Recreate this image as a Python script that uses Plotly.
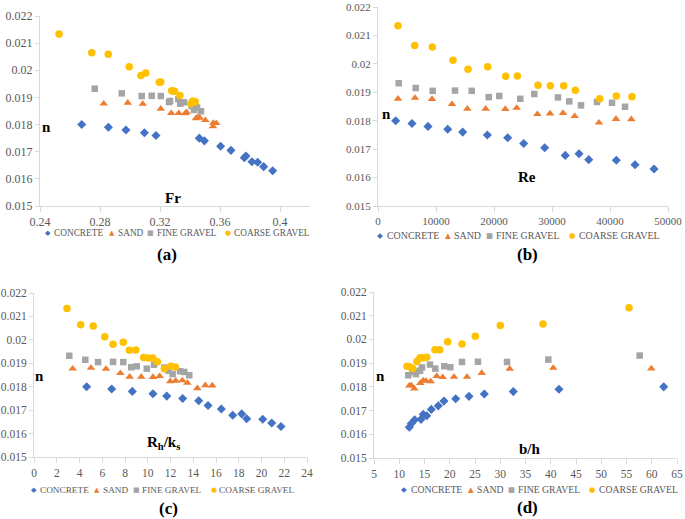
import plotly.graph_objects as go
from plotly.subplots import make_subplots

materials = ["CONCRETE", "SAND", "FINE GRAVEL", "COARSE GRAVEL"]
colors = ["#4472C4", "#ED7D31", "#A5A5A5", "#FFC000"]
symbols = ["diamond", "triangle-up", "square", "circle"]
sizes = [7, 7.5, 6.5, 7.5]

# manning n for each material
concrete_n = [0.0180, 0.0179, 0.0178, 0.0177, 0.0176, 0.0175, 0.0174, 0.0172, 0.01705, 0.01678, 0.01684, 0.01663, 0.01661, 0.01645, 0.0163]
sand_n = [0.01877, 0.0188, 0.01876, 0.01858, 0.01842, 0.01842, 0.01841, 0.01845, 0.01823, 0.01825, 0.01827, 0.01816, 0.01793, 0.01806, 0.01805]
fine_n = [0.01932, 0.01915, 0.01905, 0.01906, 0.01905, 0.01883, 0.01887, 0.01877, 0.01894, 0.01882, 0.01868, 0.01854, 0.01866, 0.01863, 0.01849]
coarse_n = [0.02134, 0.02065, 0.02059, 0.02013, 0.01981, 0.0199, 0.01956, 0.01957, 0.01925, 0.01923, 0.01923, 0.01907, 0.01877, 0.01887, 0.01884]

# (a) Froude number
concrete_fr = [0.2678, 0.2856, 0.2973, 0.3096, 0.3173, 0.3462, 0.3496, 0.3604, 0.3673, 0.3762, 0.3773, 0.3813, 0.3851, 0.3891, 0.3951]
sand_fr = [0.2825, 0.2985, 0.3085, 0.3205, 0.3275, 0.3325, 0.3367, 0.3378, 0.344, 0.3465, 0.3452, 0.3502, 0.3553, 0.3555, 0.3575]
fine_fr = [0.2765, 0.2945, 0.3078, 0.3145, 0.3205, 0.326, 0.3267, 0.3335, 0.3322, 0.336, 0.3411, 0.3427, 0.3435, 0.3447, 0.3473]
coarse_fr = [0.2527, 0.2745, 0.2855, 0.2995, 0.3073, 0.3105, 0.3195, 0.3205, 0.3278, 0.3289, 0.3297, 0.3333, 0.3405, 0.3418, 0.3435]

# (b) Reynolds number
concrete_re = [3050, 5860, 8620, 12020, 14600, 18850, 22360, 25120, 28740, 32290, 34660, 36330, 41090, 44310, 47590]
sand_re = [3450, 6380, 9310, 12760, 15400, 18570, 21950, 23910, 27470, 29660, 31900, 33910, 38100, 41030, 43670]
fine_re = [3570, 6500, 9430, 13280, 16160, 19090, 20910, 24530, 26950, 31030, 32980, 35000, 37760, 40350, 42590]
coarse_re = [3450, 6330, 9360, 12930, 15520, 18910, 22020, 24020, 27590, 29710, 32020, 34020, 38220, 41090, 43790]

# (c) Rh/ks
concrete_rk = [4.63, 6.83, 8.64, 10.46, 11.67, 13.07, 14.48, 15.30, 16.47, 17.47, 18.26, 18.70, 20.11, 20.90, 21.71]
sand_rk = [3.40, 5.01, 6.33, 7.59, 8.41, 9.43, 10.46, 11.05, 11.98, 12.46, 13.04, 13.48, 14.36, 15.06, 15.67]
fine_rk = [3.10, 4.51, 5.63, 6.95, 7.85, 8.55, 9.03, 9.91, 10.55, 11.46, 11.84, 12.19, 12.84, 13.21, 13.65]
coarse_rk = [2.90, 4.11, 5.21, 6.22, 6.95, 7.85, 8.38, 8.94, 9.64, 10.05, 10.44, 10.84, 11.46, 12.04, 12.42]

# (d) b/h
concrete_bh = [62.37, 41.63, 32.58, 26.84, 23.81, 21.18, 18.86, 17.73, 16.35, 15.44, 14.76, 14.31, 13.06, 12.39, 11.99]
sand_bh = [59.91, 40.50, 31.87, 26.33, 23.42, 20.84, 18.60, 17.42, 16.23, 15.30, 14.76, 14.17, 12.98, 12.39, 11.99]
fine_bh = [57.61, 39.52, 31.34, 25.59, 22.43, 20.11, 18.92, 17.14, 16.09, 14.50, 14.11, 13.32, 12.58, 12.9, 11.79]
coarse_bh = [55.50, 38.47, 30.01, 25.06, 22.43, 19.59, 18.01, 17.08, 15.44, 14.76, 14.11, 13.51, 12.66, 11.53, 12.13]

n_all = [concrete_n, sand_n, fine_n, coarse_n]
panels = [
    [concrete_fr, sand_fr, fine_fr, coarse_fr],
    [concrete_re, sand_re, fine_re, coarse_re],
    [concrete_rk, sand_rk, fine_rk, coarse_rk],
    [concrete_bh, sand_bh, fine_bh, coarse_bh],
]

W, H = 685, 519
SERIF = "Liberation Serif"
GREY = "#595959"
AXC = "#d9d9d9"

fig = make_subplots(rows=2, cols=2)

for p, xs in enumerate(panels):
    r = p // 2 + 1
    c = p % 2 + 1
    for i in range(4):
        fig.add_trace(go.Scatter(x=xs[i], y=n_all[i], mode="markers", name=materials[i],
                                 showlegend=False,
                                 marker=dict(symbol=symbols[i], color=colors[i], size=sizes[i])),
                      row=r, col=c)

# pixel boxes of each plot area: left, right, top, bottom
boxes = [(40, 310, 16, 206), (378, 668, 7, 206), (34, 307, 293, 457), (374, 677, 292, 458)]
xranges = [[0.24, 0.42], [0, 50000], [0, 24], [5, 65]]
dticks = [0.04, 10000, 2, 5]
fsizes = [12, 11, 11.5, 11.5]

for p in range(4):
    L, R, T, B = boxes[p]
    xa = "xaxis" if p == 0 else "xaxis%d" % (p + 1)
    ya = "yaxis" if p == 0 else "yaxis%d" % (p + 1)
    tf = dict(family=SERIF, size=fsizes[p], color=GREY)
    fig.layout[xa].update(domain=[L / W, R / W], range=xranges[p], dtick=dticks[p], tick0=xranges[p][0],
                          showgrid=False, zeroline=False, showline=True, linecolor=AXC,
                          ticks="outside", ticklen=5, tickcolor=AXC, tickfont=tf, automargin=False,
                          tickformat="d" if p == 1 else None)
    fig.layout[ya].update(domain=[1 - B / H, 1 - T / H], range=[0.015, 0.022], dtick=0.001, tick0=0.015,
                          showgrid=False, zeroline=False, showline=True, linecolor=AXC, automargin=False,
                          ticks="outside", ticklen=4, tickcolor=AXC, tickfont=tf)

# axis titles sit inside the plot areas
titles = [
    ("x domain", "y domain", 0.025, 0.417, "<b>n</b>"),
    ("x domain", "y domain", 0.493, 0.042, "<b>Fr</b>"),
    ("x2 domain", "y2 domain", 0.03, 0.462, "<b>n</b>"),
    ("x2 domain", "y2 domain", 0.513, 0.147, "<b>Re</b>"),
    ("x3 domain", "y3 domain", 0.019, 0.494, "<b>n</b>"),
    ("x3 domain", "y3 domain", 0.474, 0.087, "<b>R<sub>h</sub>/k<sub>s</sub></b>"),
    ("x4 domain", "y4 domain", 0.02, 0.494, "<b>n</b>"),
    ("x4 domain", "y4 domain", 0.515, 0.052, "<b>b/h</b>"),
]
for xr, yr, x, y, t in titles:
    fig.add_annotation(xref=xr, yref=yr, x=x, y=y, text=t, showarrow=False,
                       xanchor="center", yanchor="middle",
                       font=dict(family=SERIF, size=15, color="black"))

# legends under each panel: (left px, width px, centre y px)
glyphs = ["◆", "▲", "■", "●"]
glyph_off = [0.005, 0.246, 0.394, 0.689]
text_off = [0.024, 0.265, 0.413, 0.708]
for lx, lw, ly in [(47, 263, 233), (379, 281, 236), (33, 262, 490), (403, 275, 489)]:
    fs = 9.3 * lw / 263
    for i in range(4):
        fig.add_annotation(xref="paper", yref="paper", x=(lx + glyph_off[i] * lw) / W, y=1 - ly / H,
                           xanchor="center", yanchor="middle", text=glyphs[i], showarrow=False,
                           borderpad=0, font=dict(family="DejaVu Sans", size=fs * 0.75, color=colors[i]))
        fig.add_annotation(xref="paper", yref="paper", x=(lx + text_off[i] * lw) / W, y=1 - ly / H,
                           xanchor="left", yanchor="middle", text=materials[i], showarrow=False,
                           borderpad=0, font=dict(family=SERIF, size=fs, color=GREY))

for x, y, t in [(167, 254, "(a)"), (527, 254, "(b)"), (168, 508, "(c)"), (527, 507, "(d)")]:
    fig.add_annotation(xref="paper", yref="paper", x=x / W, y=1 - y / H, text="<b>%s</b>" % t,
                       xanchor="center", yanchor="middle",
                       showarrow=False, font=dict(family=SERIF, size=17, color="black"))

fig.update_layout(width=W, height=H, margin=dict(l=0, r=0, t=0, b=0),
                  plot_bgcolor="white", paper_bgcolor="white", showlegend=False)

# page has an 8px default body margin, drop it so the figure fills the window
fig.write_html("out.html", config={"displayModeBar": False},
               post_script="document.body.style.margin='0';")
